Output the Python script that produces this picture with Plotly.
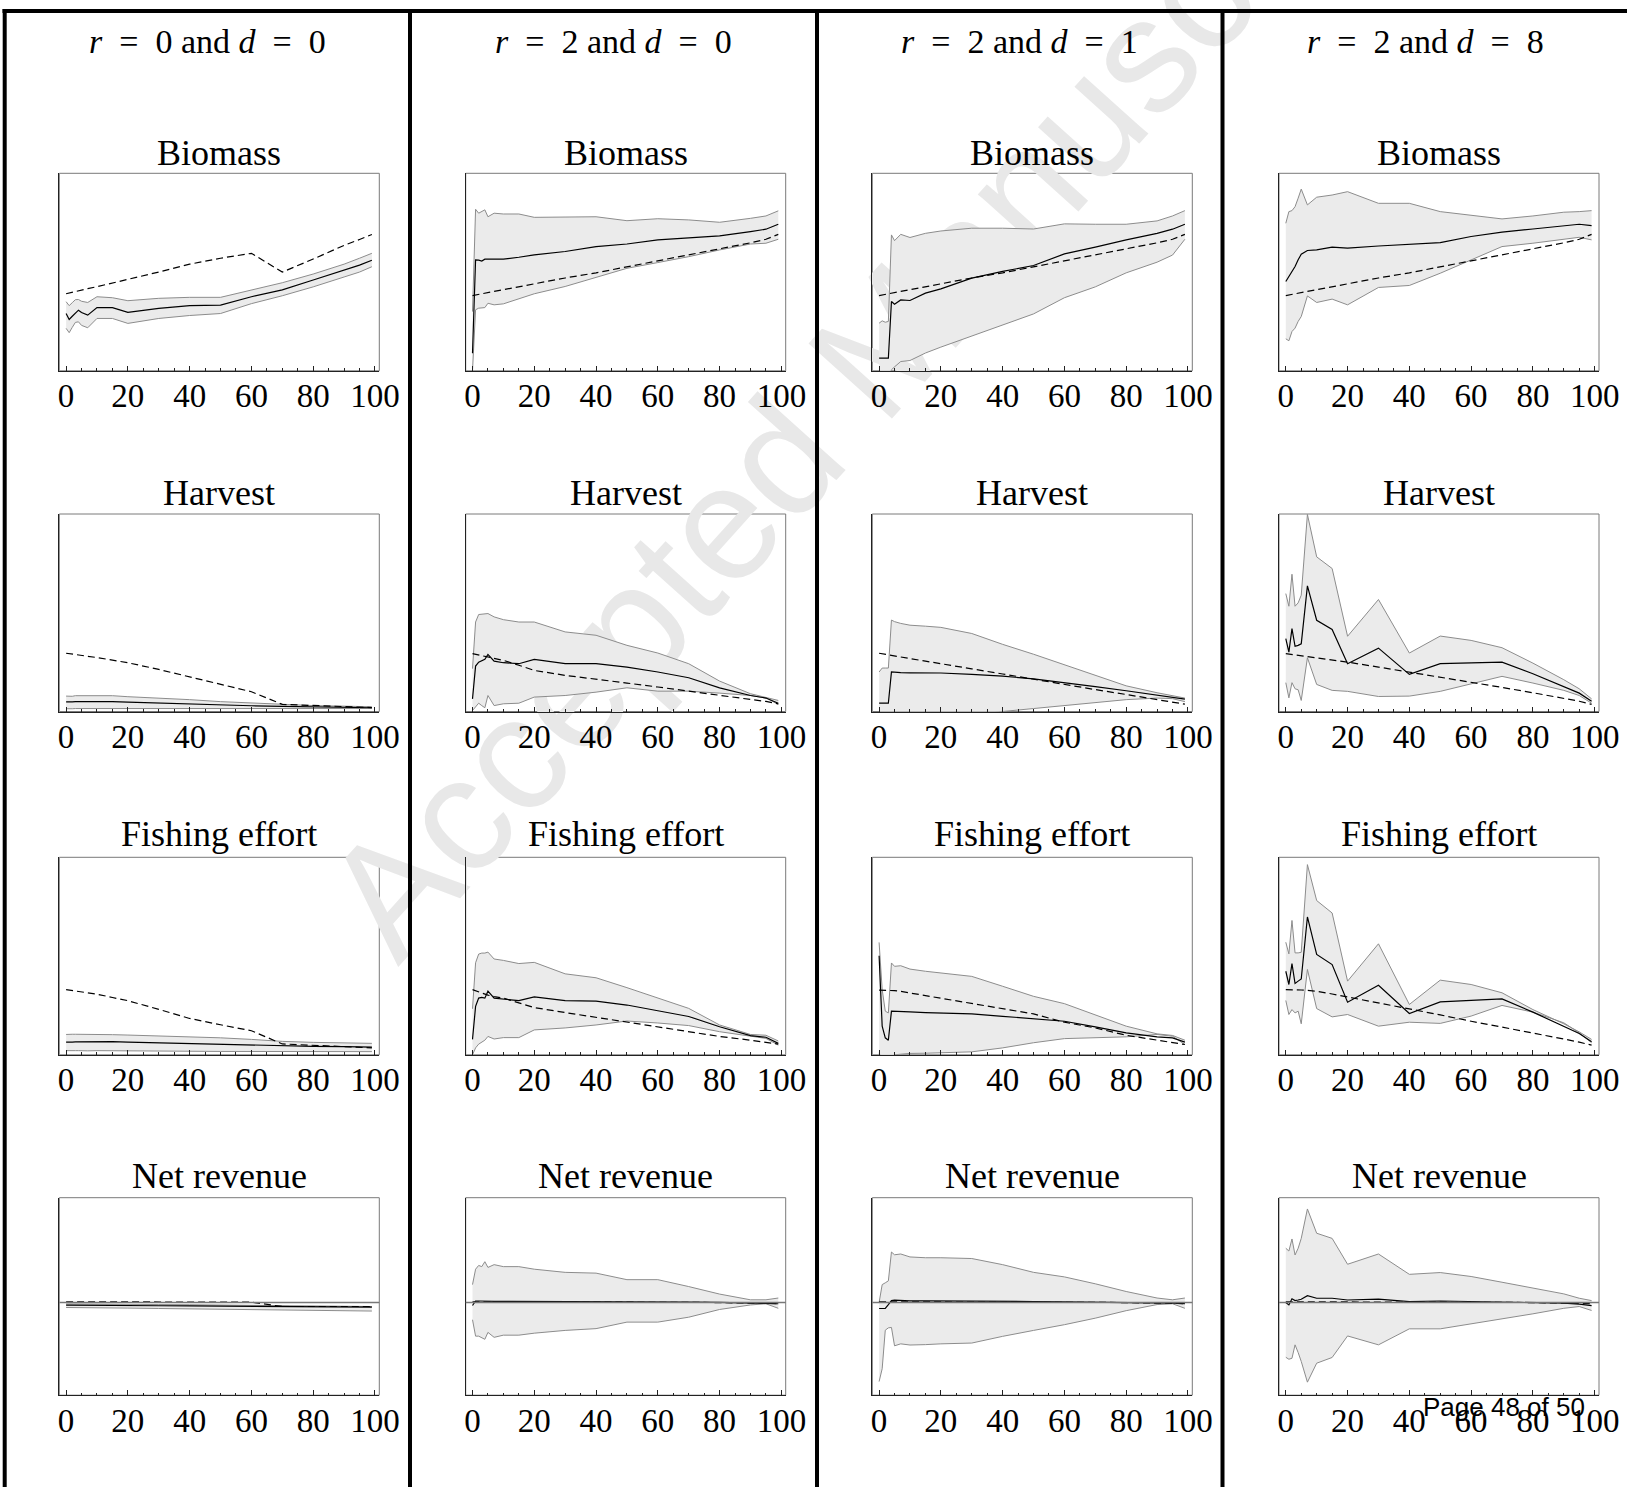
import math
import plotly.graph_objects as go

W, H = 1627, 1487

# ---------------- data ----------------
T = [0, 1, 2, 3, 4, 5, 7, 10, 15, 20, 30, 40, 50, 60, 70, 80, 90, 95, 99]

EQ = "\u2002=\u2002"
column_titles = [f"<i>r</i>{EQ}0 and <i>d</i>{EQ}0", f"<i>r</i>{EQ}2 and <i>d</i>{EQ}0",
                 f"<i>r</i>{EQ}2 and <i>d</i>{EQ}1", f"<i>r</i>{EQ}2 and <i>d</i>{EQ}8"]
row_titles = ["Biomass", "Harvest", "Fishing effort", "Net revenue"]
tick_vals = [0, 20, 40, 60, 80, 100]
tick_text = ["0", "20", "40", "60", "80", "100"]

# values are in % of panel height (net revenue: relative to the zero axis)
# ---- r=0, d=0
bio_c1_mean = [29, 26, 27.6, 29.2, 30.7, 29.5, 28.2, 32, 32, 29.6, 31.6, 33, 33.3, 37.5, 41, 46, 51, 53.5, 56]
bio_c1_up = [35, 33, 34.5, 36, 36.1, 35.2, 34.6, 37.5, 37, 35.5, 36.7, 37.2, 37.2, 41, 44.6, 49, 54, 57, 59.5]
bio_c1_lo = [21.5, 19.3, 22, 24.5, 24.8, 23, 21.8, 26.5, 26.5, 24, 26.5, 28, 29, 34, 38, 42.5, 47.5, 50, 52.7]
bio_c1_det = [39, 39.4, 39.8, 40.1, 40.5, 40.8, 41.6, 42.6, 44.4, 46.3, 50, 54, 57, 59.5, 50, 56.6, 63.5, 66.5, 69]

har_c1_mean = [4.9, 4.8, 4.9, 5, 5, 5, 5.1, 5.2, 5, 4.7, 4.2, 3.7, 3.3, 2.9, 2.6, 2.3, 2.1, 2.0, 1.9]
har_c1_up = [7.8, 7.6, 7.7, 8, 8, 8.1, 8.2, 8.3, 8, 7.5, 6.8, 6, 5, 4.3, 3.6, 3, 2.7, 2.5, 2.4]
har_c1_lo = [1.4, 1.3, 1.4, 1.5, 1.5, 1.4, 1.3, 1.4, 1.4, 1.3, 1.2, 1.2, 1.2, 1.2, 1.3, 1.4, 1.5, 1.5, 1.6]
har_c1_det = [29.5, 29.3, 29.1, 28.9, 28.7, 28.5, 28.0, 27.3, 26.0, 24.7, 21.3, 17.5, 14, 10, 3.6, 3, 2.5, 2.2, 2]

eff_c1_mean = [6.4, 6.3, 6.4, 6.5, 6.5, 6.6, 6.7, 6.8, 6.7, 6.4, 6, 5.6, 5.3, 4.9, 4.6, 4.3, 4.1, 4, 3.9]
eff_c1_up = [10.3, 10.2, 10.4, 10.4, 10.4, 10.3, 10.4, 10.5, 10.2, 10, 9.6, 9.3, 8.6, 7.8, 6.8, 6.3, 6, 5.9, 5.8]
eff_c1_lo = [2.1, 2, 2, 2.1, 2.1, 2, 2, 2.1, 2, 1.9, 1.8, 1.8, 1.7, 1.7, 1.6, 1.6, 1.6, 1.6, 1.6]
eff_c1_det = [33, 32.8, 32.6, 32.4, 32.2, 32, 31.5, 30.7, 29, 27.4, 23, 18.4, 15.2, 12.2, 5.5, 4.8, 4.2, 3.8, 3.5]

net_c1_mean = [-1.3, -1.3, -1.3, -1.3, -1.3, -1.3, -1.35, -1.4, -1.45, -1.5, -1.6, -1.7, -1.8, -1.9, -2.0, -2.1, -2.2, -2.25, -2.3]
net_c1_up = [-0.7, -0.7, -0.7, -0.7, -0.7, -0.7, -0.75, -0.8, -0.85, -0.9, -1.0, -1.1, -1.2, -1.4, -1.6, -1.7, -1.8, -1.9, -2.0]
net_c1_lo = [-2.5, -2.5, -2.5, -2.5, -2.5, -2.5, -2.55, -2.6, -2.7, -2.8, -3.0, -3.2, -3.4, -3.6, -3.8, -4.0, -4.1, -4.2, -4.3]
net_c1_det = [0.4, 0.4, 0.4, 0.4, 0.4, 0.4, 0.4, 0.4, 0.4, 0.4, 0.4, 0.35, 0.3, 0.2, -2.0, -2.0, -2.0, -2.0, -2.0]

# ---- r=2 deterministic paths (shared by d = 0, 1, 8)
bio_r2_det = [38.1, 38.4, 38.7, 39, 39.3, 39.6, 40.2, 41.2, 42.7, 44.3, 47, 49.6, 52.6, 55.6, 58.6, 61.6, 64.8, 66.6, 69.1]
net_r2_det = [0.4, 0.4, 0.4, 0.4, 0.4, 0.4, 0.4, 0.4, 0.4, 0.4, 0.4, 0.3, 0.3, 0.2, 0.1, 0, -0.2, -0.3, -0.5]

# ---- r=2, d=0
bio_c2_mean = [8.9, 56.2, 56, 55.6, 56.5, 56.5, 56.2, 56.5, 57.5, 58.7, 60.4, 62.9, 64.2, 66.3, 67.3, 68.3, 70.5, 71.7, 74.2]
bio_c2_up = [30, 81.8, 79.8, 80.6, 81.5, 78, 79.8, 79.4, 79.4, 77.7, 78, 78, 76, 77, 76.4, 75.2, 77.2, 78.4, 81]
bio_c2_lo = [0, 30.9, 31.7, 31.7, 32, 34.2, 33.4, 33.9, 36.3, 39, 42.7, 47.4, 51.9, 54.8, 57.8, 61.2, 64.2, 64.6, 66.6]

har_c2_mean = [6.4, 23, 25, 25.9, 26.4, 28.9, 25.5, 24.7, 24.2, 26.4, 24.2, 24.2, 22.5, 20, 17.1, 12, 8.1, 6.8, 4.2]
har_c2_up = [21.7, 45.3, 49.1, 49.2, 49.3, 49.6, 47.9, 46.5, 45.3, 45.3, 40.3, 38.6, 33.5, 29.6, 24.2, 15.4, 9, 7.3, 5.6]
har_c2_lo = [0.5, 2.2, 4.2, 3, 1.9, 8.1, 3, 3.9, 4.2, 7.3, 8.1, 9.8, 12, 10.3, 10.3, 9.3, 8.1, 6.9, 3.6]
har_c2_det = [29.3, 29, 28.6, 28.2, 27.8, 27.4, 26.8, 25.9, 23.4, 20.8, 18.3, 16.2, 14.4, 12.4, 10.2, 8.1, 6.1, 5.1, 3.9]

eff_c2_mean = [7.8, 24.5, 28.7, 29.1, 28.7, 32.2, 28.7, 28.3, 27.4, 29.3, 27.4, 27.2, 25.2, 22.3, 19.4, 14.2, 9.7, 8.9, 5.8]
eff_c2_up = [23.3, 46.6, 51, 51.5, 51.5, 52, 48.5, 47.8, 46.2, 46.8, 41, 39, 34, 28.7, 23.5, 15.1, 10.3, 9.9, 7]
eff_c2_lo = [0, 3.5, 5.4, 6.4, 7.4, 9.3, 8, 8.7, 8.7, 12.6, 13.6, 15.1, 17.1, 16.1, 14.8, 11.7, 9.3, 8.3, 4.9]
eff_c2_det = [33, 32.4, 31.8, 31.1, 30.6, 30.2, 29.5, 28.7, 26.3, 23.9, 21.4, 19, 16.7, 14.2, 11.7, 9.3, 7.4, 6.4, 5.4]

net_c2_mean = [-1.5, 0.8, 0.8, 0.7, 0.7, 0.7, 0.6, 0.6, 0.6, 0.5, 0.5, 0.5, 0.4, 0.4, 0.3, 0.1, -0.2, -0.3, -0.6]
net_c2_up = [9.1, 16.9, 18.8, 18.2, 20.7, 17.8, 19.2, 18.2, 18.2, 16.9, 15.3, 14.9, 11.6, 11.6, 8.1, 4.3, 1.4, 1.4, 2.3]
net_c2_lo = [-8.7, -17, -17, -18, -18.6, -15.1, -17.6, -16.5, -16.5, -15.5, -14.1, -13.2, -9.9, -9.9, -7.4, -3.5, -1.2, -0.6, -2.9]

# ---- r=2, d=1
bio_c3_mean = [6.4, 6.4, 6.4, 6.4, 35.1, 33.7, 35.9, 35.6, 39.3, 41.5, 46.9, 50.3, 53.3, 59.2, 62.6, 66.3, 69.6, 71.7, 74.2]
bio_c3_up = [24.1, 25.3, 24.6, 25, 68.8, 65.9, 69.1, 67.5, 69.6, 70.8, 72.2, 72.2, 71.8, 74.4, 74.2, 74.2, 75.9, 78.4, 81.1]
bio_c3_lo = [-5, -5, -5, -3, 0.5, 2, 4.7, 5.2, 9, 12, 17.5, 23, 28.8, 37, 42.5, 49.6, 55, 58.6, 66.6]

har_c3_mean = [4.2, 4.2, 4.2, 4.2, 20, 19.8, 19.7, 19.6, 19.5, 19.5, 18.8, 17.9, 16.5, 14.7, 12.6, 10.5, 8.4, 7.3, 6.3]
har_c3_up = [20, 22, 22, 22, 46.3, 45.5, 44.6, 43.7, 43.2, 42.6, 39.5, 34, 29, 23.7, 18.5, 13, 9.5, 7.9, 6.8]
har_c3_lo = [-3, -3, -3, -3, -3, -3, -3, -3, -3, -3, -2, 0, 1.5, 3, 4.5, 6, 6.8, 6.5, 5]
har_c3_det = [29.5, 29.2, 29, 28.7, 28.4, 28.2, 27.6, 26.8, 25.5, 24.3, 21.6, 19, 16.3, 13.7, 11.1, 8.6, 6, 4.8, 3.7]

eff_c3_mean = [50.2, 14.5, 8.6, 7.4, 22.1, 22, 21.9, 21.7, 21.4, 21.2, 20.7, 19.5, 18.4, 17, 14.1, 11.1, 9.1, 8.6, 6.4]
eff_c3_up = [56.9, 33, 22.1, 21.2, 46.5, 44.8, 45.1, 43.4, 42.3, 41.4, 39.7, 34.7, 29.6, 25.9, 20.4, 14.5, 10.6, 9.8, 7.4]
eff_c3_lo = [1, -3, -3, -3, -1, 0, 0.3, 0.7, 0.8, 1, 1.5, 3.5, 6.1, 8.2, 8.6, 9.1, 10.3, 9.4, 5.2]
eff_c3_det = [32.7, 32.7, 32.7, 32.6, 32.6, 32.5, 32.1, 31.3, 30, 28.8, 25.9, 23.4, 20.7, 16.5, 13.6, 9.9, 7.4, 6.3, 5.2]

net_c3_mean = [-3, -3, -2.9, -1, 1, 1.2, 1, 0.9, 0.9, 0.8, 0.7, 0.6, 0.5, 0.4, 0.3, 0.1, -0.2, -0.3, -0.5]
net_c3_up = [0, 9.1, 10, 11, 25.6, 24.2, 24.6, 23.1, 22.7, 22.7, 22.3, 19.2, 15.3, 13, 9.5, 5.6, 2.3, 1.4, 2.3]
net_c3_lo = [-40, -33.5, -14, -12.8, -12.6, -21.9, -20.9, -21.5, -21.3, -20.9, -20.5, -17.1, -14.1, -11.2, -7.9, -4.1, -1, -0.6, -2.9]

# ---- r=2, d=8
bio_c4_mean = [45.2, 47.7, 50.3, 52.8, 56.2, 59, 60.9, 61.2, 62.6, 62.1, 63.2, 64.1, 64.9, 68, 70.2, 71.8, 73.5, 74.2, 73.5]
bio_c4_up = [74.7, 80.6, 81.1, 83.1, 87.4, 92, 84, 87.9, 89, 90.7, 84.8, 84.8, 80.6, 78.9, 76.9, 78.4, 80.3, 80.6, 81.1]
bio_c4_lo = [16.2, 15.2, 19.9, 21.6, 25, 27.5, 37.9, 34.6, 36.3, 33.4, 42.2, 43.2, 49.4, 56.2, 62.9, 64.6, 66.6, 67.6, 66.3]

har_c4_mean = [36.9, 30.1, 42, 33, 33.5, 34.3, 63.6, 46.2, 41.5, 24.2, 32.1, 18.8, 24.2, 24.7, 25, 19.1, 12.7, 9.3, 5.2]
har_c4_up = [59.7, 53.3, 69.5, 53.3, 55, 58.9, 99.8, 78.3, 72.4, 38.1, 56.7, 29.6, 38.2, 36, 32.3, 24.5, 16.1, 11.5, 6.4]
har_c4_lo = [14.6, 6.9, 14.6, 11.5, 11, 5.6, 27.2, 13.7, 10.7, 10.2, 7.6, 7.8, 10.2, 14, 17.8, 14.4, 10.7, 8.1, 4.2]
har_c4_det = [29.3, 29.1, 28.9, 28.7, 28.5, 28.3, 27.9, 27.3, 26.2, 25, 22.5, 20, 17.5, 14.9, 12.2, 9.5, 6.6, 5.2, 3.6]

eff_c4_mean = [42.3, 35.6, 46.2, 36.1, 37.3, 38.4, 69.8, 50.8, 45.7, 26.6, 35.2, 20.9, 26.8, 27.7, 28.3, 21.6, 14.5, 10.8, 6.6]
eff_c4_up = [57, 51.1, 68, 51.6, 51.6, 51.9, 96.3, 78.1, 71.8, 37.3, 56.2, 25.5, 37.8, 35.6, 31.4, 22.9, 15.7, 11.6, 7.8]
eff_c4_lo = [27.5, 20.4, 22.9, 21.2, 22.1, 15.7, 43.2, 23.4, 19.2, 20.4, 14.5, 16.5, 15.9, 19.6, 25, 21.6, 16.2, 11.1, 6.1]
eff_c4_det = [33, 33, 32.9, 32.9, 32.8, 32.8, 32.6, 32.2, 30.8, 29.3, 26.4, 23.4, 20.2, 17, 14.1, 11.1, 8, 6.4, 4.9]

net_c4_mean = [0, -1.2, 1.9, 1, 1.3, 1.7, 3.5, 2.2, 2.2, 1.3, 1.7, 0.5, 0.8, 0.5, 0.5, 0.2, -0.3, -0.8, -1.5]
net_c4_up = [27.5, 26.1, 32.2, 24.1, 27.5, 32.5, 47.4, 35.1, 32.5, 19.4, 24.6, 14.3, 15.2, 13.2, 10.3, 7.3, 4.4, 2.2, 1]
net_c4_lo = [-27.7, -28.7, -28.2, -21.4, -25.3, -29.8, -40.3, -30.7, -27.8, -16.9, -21.4, -13.3, -13.3, -10.8, -8.3, -5.7, -2.9, -2, -4]

watermark = "Accepted Manuscript"
page_label = "Page 48 of 50"

# panels[row][col] = (lower, upper, mean, deterministic)
panels = [
    [(bio_c1_lo, bio_c1_up, bio_c1_mean, bio_c1_det), (bio_c2_lo, bio_c2_up, bio_c2_mean, bio_r2_det),
     (bio_c3_lo, bio_c3_up, bio_c3_mean, bio_r2_det), (bio_c4_lo, bio_c4_up, bio_c4_mean, bio_r2_det)],
    [(har_c1_lo, har_c1_up, har_c1_mean, har_c1_det), (har_c2_lo, har_c2_up, har_c2_mean, har_c2_det),
     (har_c3_lo, har_c3_up, har_c3_mean, har_c3_det), (har_c4_lo, har_c4_up, har_c4_mean, har_c4_det)],
    [(eff_c1_lo, eff_c1_up, eff_c1_mean, eff_c1_det), (eff_c2_lo, eff_c2_up, eff_c2_mean, eff_c2_det),
     (eff_c3_lo, eff_c3_up, eff_c3_mean, eff_c3_det), (eff_c4_lo, eff_c4_up, eff_c4_mean, eff_c4_det)],
    [(net_c1_lo, net_c1_up, net_c1_mean, net_c1_det), (net_c2_lo, net_c2_up, net_c2_mean, net_r2_det),
     (net_c3_lo, net_c3_up, net_c3_mean, net_r2_det), (net_c4_lo, net_c4_up, net_c4_mean, net_r2_det)],
]

# ---------------- layout geometry (pixels) ----------------
col_left = [59.3, 465.7, 872.3, 1279.0]
frame_w = 320.0
row_top = [173.3, 514.0, 857.3, 1197.7]
frame_h = 197.5
col_center = [207.5, 613.5, 1019.5, 1425.0]
col_title_y = 41.5
row_title_y = [153.0, 493.0, 834.0, 1176.0]
dividers_x = [410.0, 817.0, 1222.5]

SERIF = "Liberation Serif"
FRAME_GRAY = "#7a7a7a"
BAND_LINE = "#8c8c8c"
BAND_FILL = "#ebebeb"


def px(x):
    return x / W


def py(y):
    return 1 - y / H


fig = go.Figure()
layout = {}
shapes = []
annotations = []

for r in range(4):
    for c in range(4):
        i = r * 4 + c + 1
        sfx = "" if i == 1 else str(i)
        xa, ya = "x" + sfx, "y" + sfx
        lo, up, mean, det = panels[r][c]
        common = dict(xaxis=xa, yaxis=ya, showlegend=False, hoverinfo="skip", mode="lines")
        fig.add_trace(go.Scatter(x=T, y=lo, line=dict(color=BAND_LINE, width=1), **common))
        fig.add_trace(go.Scatter(x=T, y=up, fill="tonexty", fillcolor=BAND_FILL,
                                 line=dict(color=BAND_LINE, width=1), **common))
        fig.add_trace(go.Scatter(x=T, y=det, line=dict(color="black", width=1.2, dash="7px,4px"), **common))
        fig.add_trace(go.Scatter(x=T, y=mean, line=dict(color="black", width=1.2), **common))

        l = col_left[c]
        t = row_top[r]
        yr = [-46.9, 53.1] if r == 3 else [0, 100]
        layout["xaxis" + sfx] = dict(
            domain=[px(l), px(l + frame_w)], anchor=ya, range=[-2.2, 101.4],
            tickmode="array", tickvals=tick_vals, ticktext=tick_text,
            ticks="inside", ticklen=5, tickwidth=1, tickcolor="#222",
            minor=dict(ticks="inside", ticklen=2.5, tickwidth=1, tickcolor="#222",
                       tickmode="linear", tick0=0, dtick=5, showgrid=False),
            showline=True, linecolor="#222", linewidth=1, mirror=False,
            showgrid=False, zeroline=False, fixedrange=True, automargin=False,
            tickfont=dict(family=SERIF, size=33, color="black"), ticklabelstandoff=-4,
        )
        layout["yaxis" + sfx] = dict(
            domain=[py(t + frame_h), py(t)], anchor=xa, range=yr,
            showline=True, linecolor="#222", linewidth=1, mirror=False, automargin=False,
            showticklabels=False, ticks="", showgrid=False, zeroline=False, fixedrange=True,
        )
        # grey frame (top / right)
        shapes.append(dict(type="rect", xref=xa + " domain", yref=ya + " domain",
                           x0=0, x1=1, y0=0, y1=1, line=dict(color=FRAME_GRAY, width=1), layer="below"))
        if r == 3:
            shapes.append(dict(type="line", xref=xa + " domain", yref=ya, x0=0, x1=1, y0=0, y1=0,
                               line=dict(color="#777", width=1.5), layer="above"))
        annotations.append(dict(text=row_titles[r], x=px(l + frame_w / 2), y=py(row_title_y[r]),
                                xref="paper", yref="paper", showarrow=False, xanchor="center",
                                yanchor="middle", font=dict(family=SERIF, size=36, color="black")))

for c in range(4):
    annotations.append(dict(text=column_titles[c], x=px(col_center[c]), y=py(col_title_y),
                            xref="paper", yref="paper", showarrow=False, xanchor="center",
                            yanchor="middle", font=dict(family=SERIF, size=34, color="black")))

# outer border and column dividers
shapes.append(dict(type="line", xref="paper", yref="paper", x0=px(2.5), x1=1.0,
                   y0=py(11), y1=py(11), line=dict(color="black", width=4)))
shapes.append(dict(type="line", xref="paper", yref="paper", x0=px(4.7), x1=px(4.7),
                   y0=py(9), y1=0, line=dict(color="black", width=4)))
for dx in dividers_x:
    shapes.append(dict(type="line", xref="paper", yref="paper", x0=px(dx), x1=px(dx),
                       y0=py(9), y1=0, line=dict(color="black", width=4)))

# watermark (behind the plots)
wm_cx, wm_cy = 922.0, 418.0
wm_angle = 48.0
ang = math.radians(wm_angle)
L = 300
shapes.append(dict(type="line", xref="paper", yref="paper",
                   x0=px(wm_cx - L * math.cos(ang)), y0=py(wm_cy + L * math.sin(ang)),
                   x1=px(wm_cx + L * math.cos(ang)), y1=py(wm_cy - L * math.sin(ang)),
                   line=dict(color="rgba(0,0,0,0)", width=0), layer="below",
                   label=dict(text=watermark, textangle=-wm_angle, textposition="middle",
                              font=dict(family="Liberation Sans", size=163, color="#e8e8e8"))))

annotations.append(dict(text=page_label, x=px(1421), y=py(1424), xref="paper", yref="paper",
                        showarrow=False, xanchor="left", yanchor="bottom",
                        font=dict(family="Liberation Sans", size=26, color="black")))

fig.update_layout(width=W, height=H, margin=dict(l=0, r=0, t=0, b=0, pad=0, autoexpand=False),
                  autosize=False, paper_bgcolor="white", plot_bgcolor="rgba(0,0,0,0)",
                  shapes=shapes, annotations=annotations, **layout)

fig.write_html("out.html", config=dict(displayModeBar=False, responsive=False),
               default_width=f"{W}px", default_height=f"{H}px",
               post_script="document.documentElement.style.overflow='hidden';"
                           "document.body.style.margin='0';document.body.style.overflow='hidden';")
